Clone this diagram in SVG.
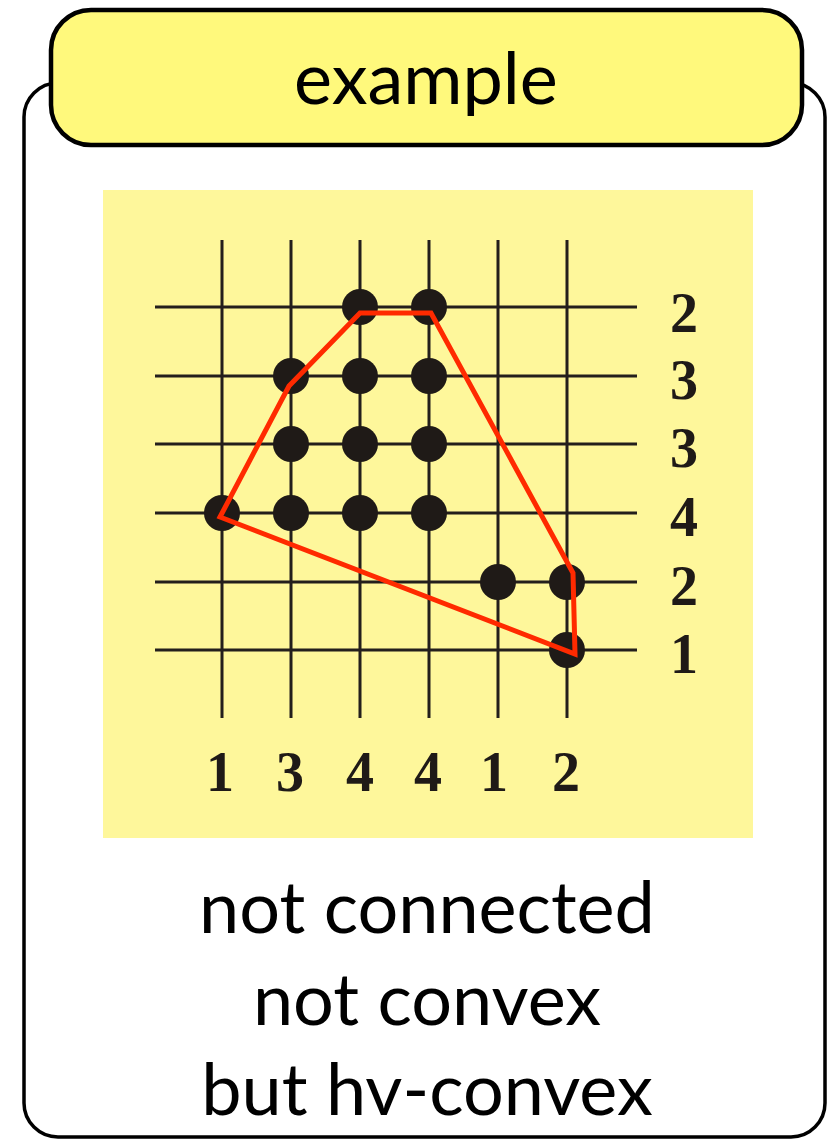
<svg xmlns="http://www.w3.org/2000/svg" width="827" height="1141" viewBox="0 0 827 1141">
<style>
.frame{fill:#ffffff;stroke:#000;stroke-width:3.5}
.title{fill:#fff97c;stroke:#000;stroke-width:4.5}
.gs{font-family:"Lato","Open Sans",sans-serif;fill:#000;text-anchor:middle}
.grid line{stroke:#231f1c;stroke-width:3}
.dots circle{fill:#1f1a17}
.num{font-family:"Liberation Serif",serif;font-weight:bold;font-size:56px;fill:#1f1a17;text-anchor:middle}
</style>
<g id="frame">
<rect class="frame" x="24" y="83" width="801" height="1054" rx="34" ry="34"/>
</g>
<g id="title">
<rect class="title" x="51" y="10" width="751" height="135" rx="40" ry="40"/>
<text class="gs" x="426" y="104" font-size="72">example</text>
</g>
<g id="figure">
<rect x="103" y="190" width="650" height="648" fill="#fef79b"/>
<g class="grid">
<line x1="222" y1="240" x2="222" y2="718"/>
<line x1="291" y1="240" x2="291" y2="718"/>
<line x1="360" y1="240" x2="360" y2="718"/>
<line x1="429" y1="240" x2="429" y2="718"/>
<line x1="498" y1="240" x2="498" y2="718"/>
<line x1="567" y1="240" x2="567" y2="718"/>
<line x1="155" y1="307" x2="637" y2="307"/>
<line x1="155" y1="376" x2="637" y2="376"/>
<line x1="155" y1="444" x2="637" y2="444"/>
<line x1="155" y1="513" x2="637" y2="513"/>
<line x1="155" y1="582" x2="637" y2="582"/>
<line x1="155" y1="650" x2="637" y2="650"/>
</g>
<g class="dots">
<circle cx="360" cy="307" r="18"/>
<circle cx="429" cy="307" r="18"/>
<circle cx="291" cy="376" r="18"/>
<circle cx="360" cy="376" r="18"/>
<circle cx="429" cy="376" r="18"/>
<circle cx="291" cy="444" r="18"/>
<circle cx="360" cy="444" r="18"/>
<circle cx="429" cy="444" r="18"/>
<circle cx="222" cy="513" r="18"/>
<circle cx="291" cy="513" r="18"/>
<circle cx="360" cy="513" r="18"/>
<circle cx="429" cy="513" r="18"/>
<circle cx="498" cy="582" r="18"/>
<circle cx="567" cy="582" r="18"/>
<circle cx="567" cy="650" r="18"/>
</g>
<polygon points="220,517 289,386 360,313 431,313 573,573 575,654" fill="none" stroke="#ff2a00" stroke-width="5" stroke-linejoin="miter"/>
<g id="row-labels">
<text class="num" x="684" y="332">2</text>
<text class="num" x="684" y="399">3</text>
<text class="num" x="684" y="467">3</text>
<text class="num" x="684" y="536">4</text>
<text class="num" x="684" y="605">2</text>
<text class="num" x="684" y="673">1</text>
</g>
<g id="col-labels">
<text class="num" x="220" y="791">1</text>
<text class="num" x="290" y="791">3</text>
<text class="num" x="360" y="791">4</text>
<text class="num" x="428" y="791">4</text>
<text class="num" x="494" y="791">1</text>
<text class="num" x="566" y="791">2</text>
</g>
</g>
<g id="caption">
<text class="gs" x="427" y="933" font-size="72">not connected</text>
<text class="gs" x="427" y="1025" font-size="72">not convex</text>
<text class="gs" x="427" y="1115" font-size="72">but hv-convex</text>
</g>
</svg>
